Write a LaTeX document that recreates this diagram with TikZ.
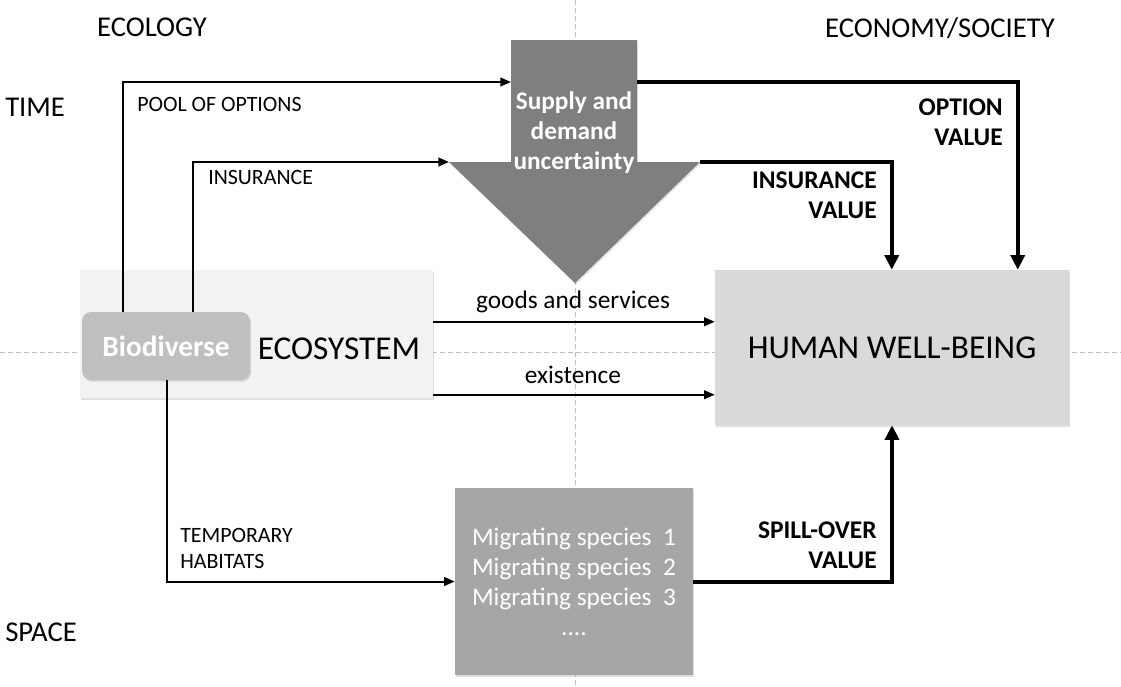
\documentclass[tikz,border=0pt]{standalone}
\usepackage{fontspec}
\setmainfont{Carlito}
\usetikzlibrary{arrows.meta,calc,shadows}
\definecolor{ecofill}{HTML}{F2F2F2}
\definecolor{biofill}{HTML}{BFBFBF}
\definecolor{hwbfill}{HTML}{D9D9D9}
\definecolor{migfill}{HTML}{A6A6A6}
\definecolor{sdfill}{HTML}{7F7F7F}
\begin{document}
\begin{tikzpicture}[x=0.75pt,y=-0.75pt,
  guide/.style={gray!50,dash pattern=on 3.5pt off 2.5pt,line width=0.6pt},
  box/.style={draw=none,inner sep=0pt,drop shadow={opacity=0.25,shadow xshift=0.8pt,shadow yshift=-1.2pt}},
  thinarr/.style={line width=1.5pt,-{Triangle[length=8pt,width=6.5pt]}},
  thickarr/.style={line width=3pt,-{Triangle[length=11pt,width=10.5pt]}},
  axislbl/.style={font=\fontsize{21.5}{25}\selectfont,inner sep=0pt},
  smalllbl/.style={font=\fontsize{16.4}{20}\selectfont,inner sep=0pt},
  flowlbl/.style={font=\fontsize{19}{22}\selectfont,inner sep=0pt},
  vallbl/.style={font=\bfseries\fontsize{19.1}{22.5}\selectfont,inner sep=0pt,align=right}
]
\useasboundingbox (0,0) rectangle (1121,686);
% guides
\draw[guide] (575,0) -- (575,686);
\draw[guide] (0,352) -- (1121,352);

% boxes
\node[box,fill=ecofill,minimum width=353*0.75pt,minimum height=128*0.75pt] (eco) at (256.5,334) {};
\node[box,fill=biofill,rounded corners=7pt,minimum width=168*0.75pt,minimum height=68*0.75pt,
      text=white,font=\bfseries\fontsize{22}{24}\selectfont] (bio) at (166,346) {Biodiverse};
\node[inner sep=0pt,font=\fontsize{25}{28}\selectfont] (ecotxt) at (339,349) {ECOSYSTEM};
\node[box,fill=hwbfill,minimum width=354*0.75pt,minimum height=155*0.75pt,
      font=\fontsize{25}{28}\selectfont] (hwb) at (892,347.5) {HUMAN WELL-BEING};
\node[box,fill=migfill,minimum width=238*0.75pt,minimum height=187*0.75pt,
      text=white,align=center,font=\fontsize{19}{22.5}\selectfont] (mig) at (574,581.5)
      {Migrating species\ \ 1\\Migrating species\ \ 2\\Migrating species\ \ 3\\....};

% supply and demand arrow
\fill[sdfill,drop shadow={opacity=0.2,shadow xshift=0.8pt,shadow yshift=-1.2pt}]
  (511,40) -- (637,40) -- (637,162) -- (700,162) -- (575,283) -- (449,162) -- (511,162) -- cycle;
\node[text=white,align=center,inner sep=0pt,font=\bfseries\fontsize{19}{22.5}\selectfont] (sd) at (574,133)
  {Supply and\\demand\\uncertainty};
\coordinate (sdin1) at (511,82);
\coordinate (sdout1) at (637,82);
\coordinate (sdin2) at (449,162);
\coordinate (sdout2) at (700,162);

% axis labels
\node[axislbl] (ecology) at (152,27) {ECOLOGY};
\node[axislbl] (economy) at (940,28) {ECONOMY/SOCIETY};
\node[axislbl,anchor=west] (time) at (5,107) {TIME};
\node[axislbl,anchor=west] (space) at (5,632) {SPACE};

% connectors
\draw[thinarr] ($(bio.north west)+(41,0)$) |- (sdin1);
\draw[thinarr] ($(bio.north west)+(111,0)$) |- (sdin2);
\draw[thickarr] (sdout1) -| ($(hwb.north west)+(303,0)$);
\draw[thickarr] (sdout2) -| ($(hwb.north west)+(177,0)$);
\draw[thinarr] ($(eco.north east)+(0,52)$) -- ($(hwb.north west)+(0,52)$);
\draw[thinarr] ($(eco.north east)+(0,125)$) -- ($(hwb.north west)+(0,125)$);
\draw[thinarr] ($(bio.south west)+(85,0)$) |- (mig.west);
\draw[thickarr] (mig.east) -| (hwb.south);

% connector labels
\node[smalllbl,anchor=west] (poollbl) at (137,104) {POOL OF OPTIONS};
\node[smalllbl,anchor=west] (inslbl) at (208,177) {INSURANCE};
\node[smalllbl,anchor=west,align=left] (templbl) at (180,548.5) {TEMPORARY\\HABITATS};
\node[flowlbl] (goodslbl) at (573,302) {goods and services};
\node[flowlbl] (existlbl) at (573,375) {existence};
\node[vallbl,anchor=east] (optval) at (1003,122) {OPTION\\VALUE};
\node[vallbl,anchor=east] (insval) at (877,195) {INSURANCE\\VALUE};
\node[vallbl,anchor=east] (spillval) at (877,545) {SPILL-OVER\\VALUE};
\end{tikzpicture}
\end{document}
